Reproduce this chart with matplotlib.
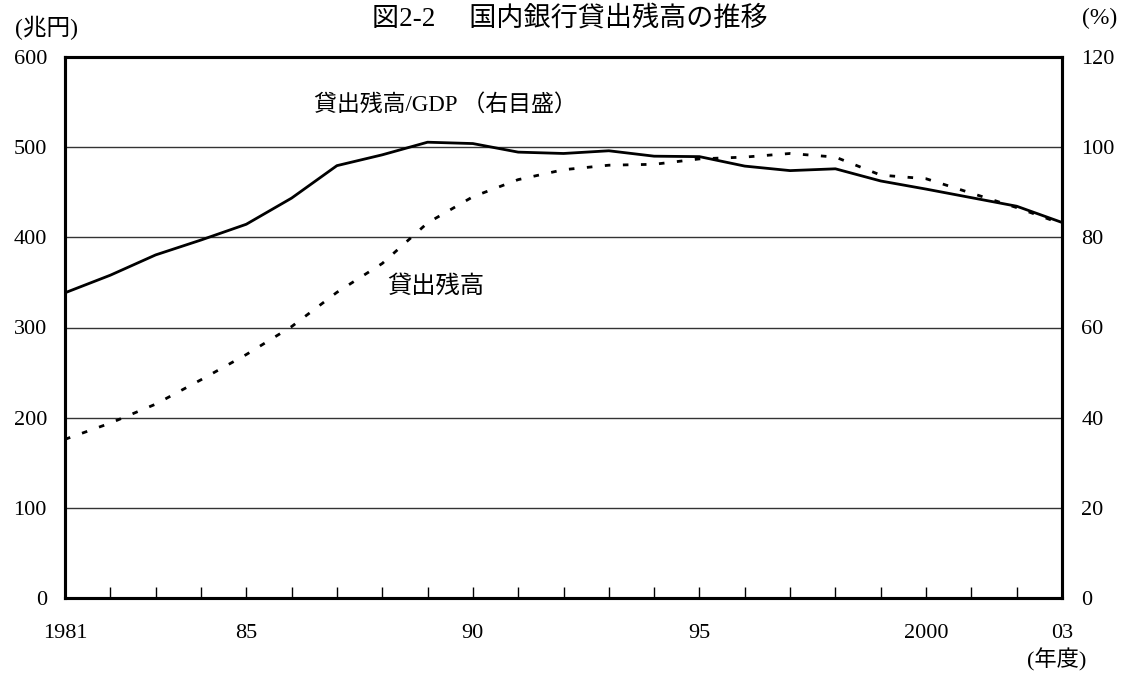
import matplotlib as mpl
import matplotlib.pyplot as plt

mpl.rcParams["font.family"] = ["Liberation Serif", "Noto Sans CJK JP"]
mpl.rcParams["font.size"] = 16

# Data
years = list(range(1981, 2004))
loans = [176, 194, 215, 242, 270, 301, 339, 371, 416, 445, 464, 475, 480, 481,
         487, 489, 493, 489, 469, 465, 449, 433, 415]  # 兆円 (left axis)
loans_gdp = [67.7, 71.6, 76.1, 79.4, 82.9, 88.7, 95.9, 98.3, 101.1, 100.8, 98.9,
             98.6, 99.2, 98.0, 97.9, 95.8, 94.8, 95.2, 92.5, 90.7, 88.8, 86.9,
             83.3]  # % (right axis)

x_labels = {1981: "1981", 1985: "85", 1990: "90", 1995: "95", 2000: "2000", 2003: "03"}

fig = plt.figure(figsize=(11.28, 6.74), dpi=100)
ax = fig.add_axes([65 / 1128, 1 - 598 / 674, (1062 - 65) / 1128, (598 - 57) / 674])
ax2 = ax.twinx()

ax.plot(years, loans, color="black", linewidth=2, linestyle=(0, (2, 4.5)),
        zorder=3)
ax2.plot(years, loans_gdp, color="black", linewidth=2, zorder=3)

ax.set_xlim(1981, 2003)
ax.set_ylim(0, 600)
ax2.set_ylim(0, 120)
ax.set_yticks(range(0, 601, 100))
ax2.set_yticks(range(0, 121, 20))
ax.set_xticks(years)
ax.set_xticklabels([x_labels.get(y, "") for y in years])

ax.yaxis.grid(True, color="#333333", linewidth=1)
ax.set_axisbelow(True)

ax.tick_params(axis="x", direction="in", length=8, width=1, pad=19)
ax.tick_params(axis="y", direction="in", length=0, pad=13)
ax2.tick_params(axis="y", direction="in", length=0, pad=14)

for a in (ax, ax2):
    for s in a.spines.values():
        s.set_linewidth(2.2)

fig.text(372 / 1128, 1 - 19 / 674, "図2-2　 国内銀行貸出残高の推移", ha="left", va="center",
         fontsize=19.5)
fig.text(47 / 1128, 1 - 28 / 674, "(兆円)", ha="center", va="center", fontsize=17)
fig.text(1100 / 1128, 1 - 18 / 674, "(%)", ha="center", va="center", fontsize=17)
fig.text(1057 / 1128, 1 - 660 / 674, "(年度)", ha="center", va="center", fontsize=16)

ax.text(1986.5, 547, "貸出残高/GDP （右目盛）", ha="left", va="center", fontsize=16.5)
ax.text(1988.1, 345, "貸出残高", ha="left", va="center", fontsize=17.5)

fig.savefig("out.png", dpi=100)
